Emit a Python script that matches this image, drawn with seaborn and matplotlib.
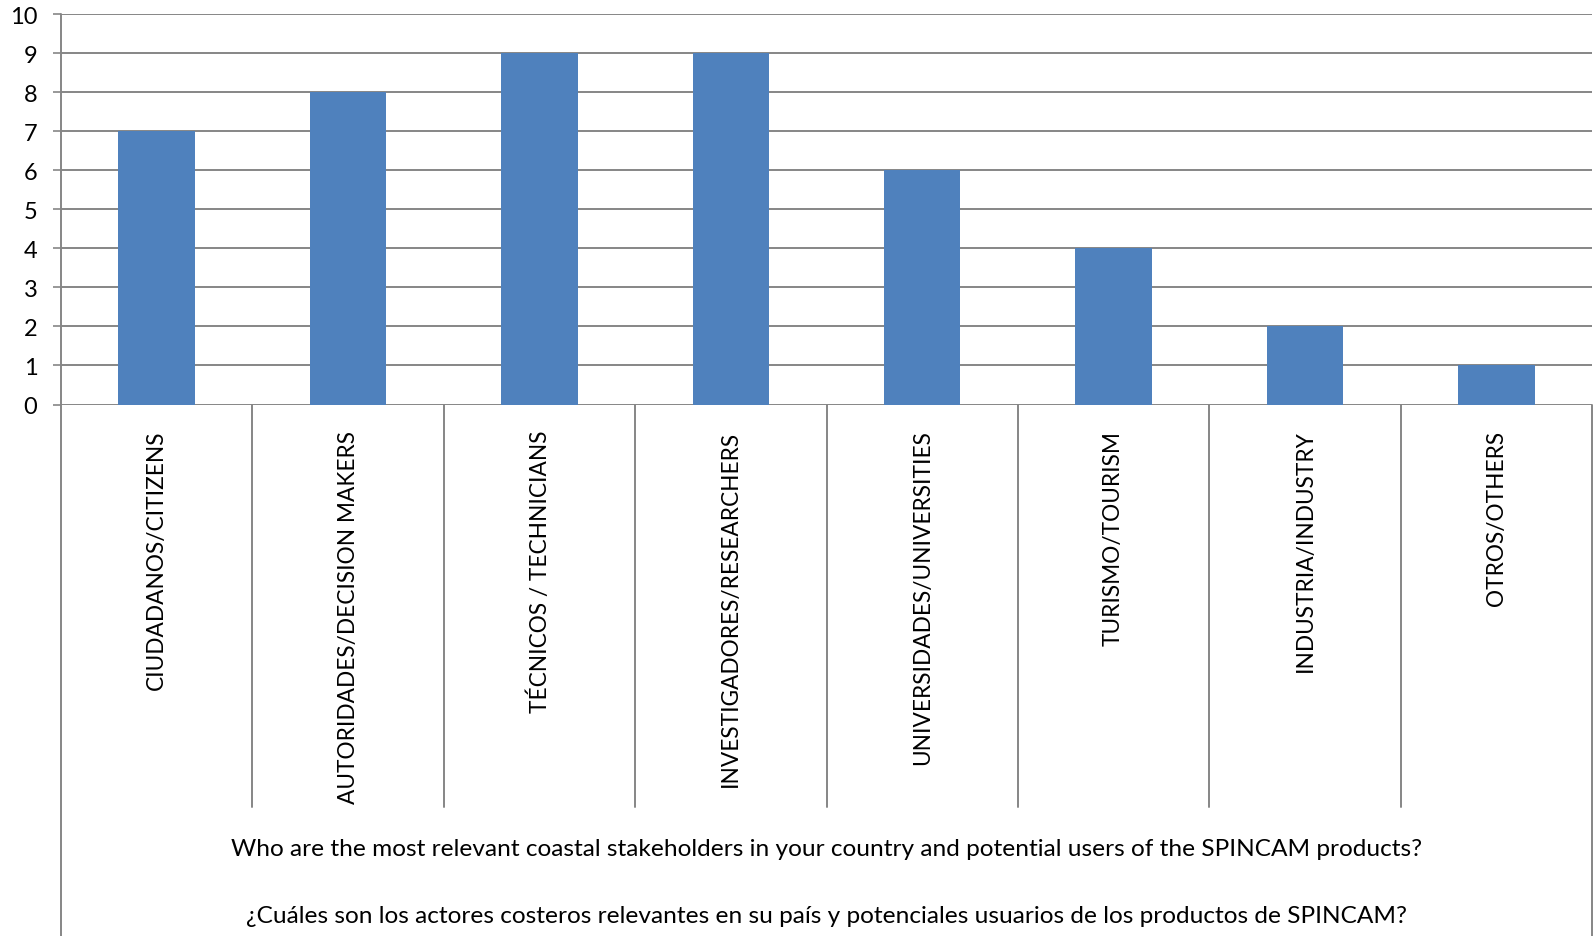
import matplotlib
matplotlib.use("Agg")
import matplotlib.pyplot as plt
import matplotlib.transforms as mtransforms
import seaborn as sns
import pandas as pd

categories = [
    "CIUDADANOS/CITIZENS",
    "AUTORIDADES/DECISION MAKERS",
    "TÉCNICOS / TECHNICIANS",
    "INVESTIGADORES/RESEARCHERS",
    "UNIVERSIDADES/UNIVERSITIES",
    "TURISMO/TOURISM",
    "INDUSTRIA/INDUSTRY",
    "OTROS/OTHERS",
]
values = [7, 8, 9, 9, 6, 4, 2, 1]
yticks = list(range(0, 11))
group_label_en = "Who are the most relevant coastal stakeholders in your country and potential users of the SPINCAM products?"
group_label_es = "¿Cuáles son los actores costeros relevantes en su país y potenciales usuarios de los productos de SPINCAM?"

sns.set_theme(style="white")
plt.rcParams["font.family"] = ["Lato", "DejaVu Sans"]

W, H = 1593, 937
fig = plt.figure(figsize=(W / 100, H / 100), dpi=100)
left_px, right_px, top_px, bot_px = 61, 1592, 15, 405.5
ax = fig.add_axes([left_px / W, 1 - bot_px / H, (right_px - left_px) / W, (bot_px - top_px) / H])

df = pd.DataFrame({"cat": categories, "val": values})
grid_c = "#868686"
sns.barplot(data=df, x="cat", y="val", color="#4F81BD", saturation=1, width=0.4, ax=ax,
            zorder=3, linewidth=0, edgecolor="none")

ax.set_ylim(0, 10)
ax.set_xlim(-0.5, len(categories) - 0.5)
ax.set_yticks(yticks)
ax.set_yticklabels([str(v) for v in yticks], fontsize=17)
ax.set_xlabel("")
ax.set_ylabel("")
ax.set_axisbelow(True)
ax.yaxis.grid(True, color=grid_c, linewidth=1.4)
ax.xaxis.grid(False)
for s in ax.spines.values():
    s.set_visible(False)

ax.tick_params(axis="y", left=True, length=6, width=1.2, color=grid_c, pad=11, labelcolor="black")
ax.tick_params(axis="x", bottom=False, length=0, pad=18, labelcolor="black")
ax.set_xticks(range(len(categories)))
ax.set_xticklabels(categories, rotation=90, fontsize=16.3, va="top", ha="center")

trans = mtransforms.blended_transform_factory(ax.transData, ax.transAxes)
h_ax = (bot_px - top_px)
sep_bottom = -(808 - bot_px) / h_ax
full_bottom = -(H - bot_px) / h_ax
n = len(categories)
for i in range(n + 1):
    xb = i - 0.5
    yb = full_bottom if i in (0, n) else sep_bottom
    ytop = 1.0 if i == 0 else 0.0
    ax.plot([xb, xb], [yb, ytop], transform=trans, color=grid_c, lw=1.4, clip_on=False, zorder=4)

ax.text(0.5, -(850 - bot_px) / h_ax, group_label_en, transform=ax.transAxes, ha="center", va="center",
        fontsize=17.6, color="black")
ax.text(0.5, -(917 - bot_px) / h_ax, group_label_es, transform=ax.transAxes, ha="center", va="center",
        fontsize=17.6, color="black")

fig.savefig("out.png", dpi=100, facecolor="white")
